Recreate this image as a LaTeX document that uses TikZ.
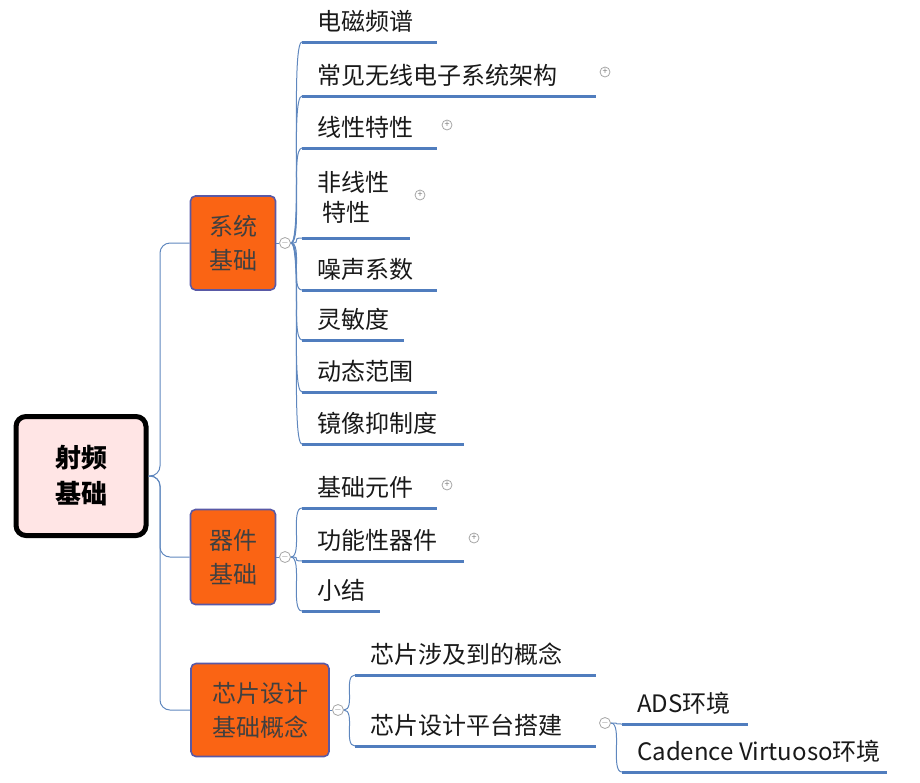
\documentclass[tikz,border=0pt]{standalone}
\usepackage{fontspec}
\setmainfont{Noto Sans CJK SC}
\definecolor{lc}{RGB}{95,135,190}
\definecolor{uc}{RGB}{80,125,190}
\definecolor{oc}{RGB}{250,100,20}
\begin{document}
\begin{tikzpicture}[x=1pt,y=-1pt,
 conn/.style={draw=lc, line width=1pt},
 uline/.style={draw=uc, line width=3pt},
 leaf/.style={anchor=west, inner sep=0pt, font=\fontsize{24}{30}\selectfont, text=black!90},
 cat/.style={draw=gray!70!blue, line width=1.6pt, fill=oc, rounded corners=5pt, text=black!75, font=\fontsize{24}{34}\selectfont, align=center},
 tog/.style={circle, draw=gray!70, line width=0.8pt, fill=white, inner sep=0pt, minimum size=11pt, font=\fontsize{9}{9}\selectfont, text=gray},
 plus/.style={circle, draw=gray!70, line width=0.8pt, inner sep=0pt, minimum size=10pt, font=\fontsize{9}{9}\selectfont, text=gray}]
\useasboundingbox (0,0) rectangle (920,782);
\node[draw=black, line width=5pt, fill=red!10!white, rounded corners=10pt, minimum width=130pt, minimum height=119pt, font=\bfseries\fontsize{26}{36}\selectfont, align=center] (root) at (81,476) {射频\\基础};
\node[cat, minimum width=85pt, minimum height=94pt] (sys) at (233,243) {系统\\基础};
\node[cat, minimum width=85pt, minimum height=95pt] (dev) at (233,557) {器件\\基础};
\node[cat, minimum width=138pt, minimum height=93pt] (chip) at (260,710) {芯片设计\\基础概念};
\draw[conn, rounded corners=10pt] (root.east) -- (160,476) |- (sys.west);
\draw[conn, rounded corners=10pt] (root.east) -- (160,476) |- (dev.west);
\draw[conn, rounded corners=10pt] (root.east) -- (160,476) |- (chip.west);
\node[tog] (ts) at (285,243) {$-$};
\node[tog] (td) at (285,557) {$-$};
\node[tog] (tc) at (338,710) {$-$};
\node[tog] (tp) at (605,723) {$-$};
\draw[conn] (sys.east) -- (ts.west);
\draw[conn] (dev.east) -- (td.west);
\draw[conn] (chip.east) -- (tc.west);
\foreach \n/\xa/\xb/\yy/\t/\tog in {
 a/302/437/42/电磁频谱/ts, b/302/596/96/常见无线电子系统架构/ts, c/302/437/148/线性特性/ts,
 e/302/437/290/噪声系数/ts, f/302/404/340/灵敏度/ts, g/302/437/392/动态范围/ts, h/302/464/444/镜像抑制度/ts,
 i/302/437/508/基础元件/td, j/302/464/561/功能性器件/td, k/302/380/611/小结/td,
 l/355/596/675/芯片涉及到的概念/tc, m/355/596/746/芯片设计平台搭建/tc,
 n/622/748/724/ADS环境/tp, o/622/887/772/Cadence Virtuoso环境/tp}{
 \coordinate (\n s) at (\xa,\yy);
 \coordinate (\n e) at (\xb,\yy);
 \node[leaf] (\n) at (\xa+15,\yy-21) {\t};
 \draw[uline] (\n s) -- (\n e);
 \draw[conn] (\tog.east) .. controls +(12,0) and +(-12,0) .. (\n s);
}
\coordinate (ds) at (302,238);
\coordinate (de) at (410,238);
\node[leaf, align=left] (d) at (317,197) {非线性\\\ 特性};
\draw[uline] (ds) -- (de);
\draw[conn] (ts.east) .. controls +(12,0) and +(-12,0) .. (ds);
\foreach \p/\x/\y in {pb/605/72, pc/447/125, pd/420/195, pi/447/485, pj/474/538}
 \node[plus] (\p) at (\x,\y) {+};
\end{tikzpicture}
\end{document}
